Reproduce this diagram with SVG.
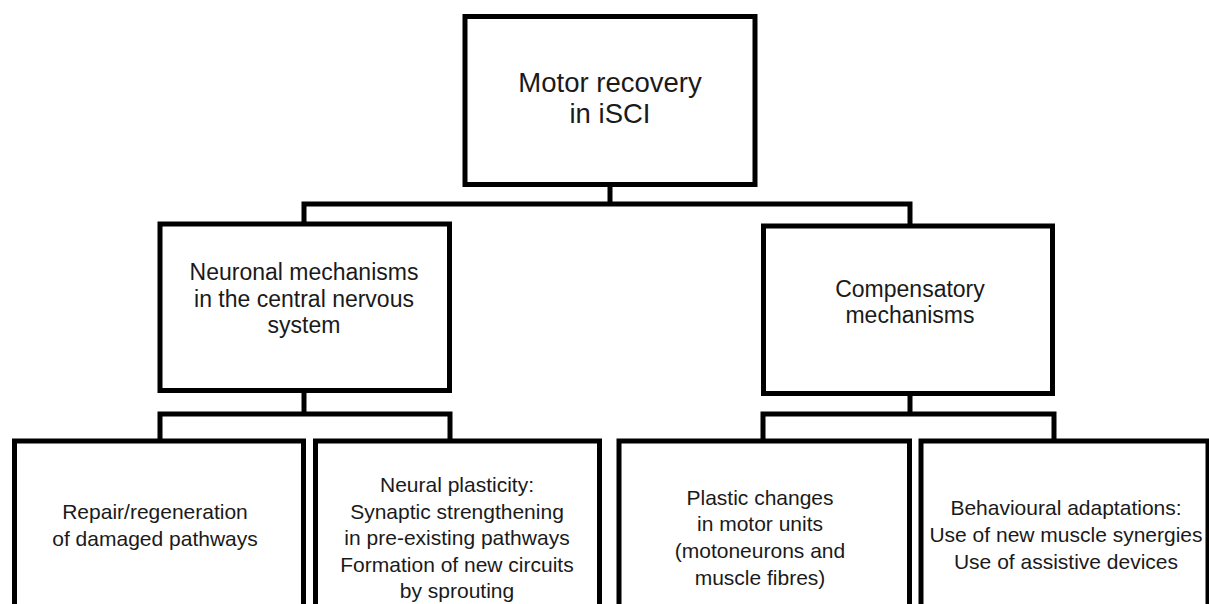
<svg xmlns="http://www.w3.org/2000/svg" width="1209" height="604" viewBox="0 0 1209 604">
<style>
.box{fill:#fff;stroke:#000;stroke-width:5;}
.con{fill:none;stroke:#000;stroke-width:5;stroke-linejoin:miter;stroke-linecap:butt;}
text{font-family:"Liberation Sans",Arial,sans-serif;fill:#1a1a1a;text-anchor:middle;}
.t1{font-size:27.5px;}
.t2{font-size:23px;}
.t3{font-size:21px;}
</style>
<rect width="1209" height="604" fill="#fff"/>
<g id="connectors">
<path class="con" d="M610,185 V204"/>
<path class="con" d="M304,224 V204 H910 V226"/>
<path class="con" d="M304,390 V414"/>
<path class="con" d="M160,441 V414 H450 V441"/>
<path class="con" d="M910,393 V414"/>
<path class="con" d="M763,441 V414 H1054 V441"/>
</g>
<g id="n-top">
<rect class="box" x="465" y="16.5" width="290" height="168"/>
<text class="t1" x="610" y="91.5">Motor recovery</text>
<text class="t1" x="610" y="123">in iSCI</text>
</g>
<g id="n-neuronal">
<rect class="box" x="160" y="224" width="289.5" height="166.5"/>
<text class="t2" x="304" y="280">Neuronal mechanisms</text>
<text class="t2" x="304" y="306.5">in the central nervous</text>
<text class="t2" x="304" y="333">system</text>
</g>
<g id="n-compensatory">
<rect class="box" x="763.5" y="226" width="289" height="167.5"/>
<text class="t2" x="910" y="297">Compensatory</text>
<text class="t2" x="910" y="323">mechanisms</text>
</g>
<g id="n-repair">
<rect class="box" x="14.5" y="441" width="289" height="200"/>
<text class="t3" x="155" y="519">Repair/regeneration</text>
<text class="t3" x="155" y="545.5">of damaged pathways</text>
</g>
<g id="n-plasticity">
<rect class="box" x="315.5" y="441" width="284" height="200"/>
<text class="t3" x="457" y="492">Neural plasticity:</text>
<text class="t3" x="457" y="518.5">Synaptic strengthening</text>
<text class="t3" x="457" y="545">in pre-existing pathways</text>
<text class="t3" x="457" y="571.5">Formation of new circuits</text>
<text class="t3" x="457" y="598">by sprouting</text>
</g>
<g id="n-motor-units">
<rect class="box" x="619" y="441" width="290.5" height="200"/>
<text class="t3" x="760" y="504.5">Plastic changes</text>
<text class="t3" x="760" y="531">in motor units</text>
<text class="t3" x="760" y="557.5">(motoneurons and</text>
<text class="t3" x="760" y="584.5">muscle fibres)</text>
</g>
<g id="n-behavioural">
<rect class="box" x="921" y="441" width="287" height="200"/>
<text class="t3" x="1066" y="515">Behavioural adaptations:</text>
<text class="t3" x="1066" y="542">Use of new muscle synergies</text>
<text class="t3" x="1066" y="569">Use of assistive devices</text>
</g>
</svg>
